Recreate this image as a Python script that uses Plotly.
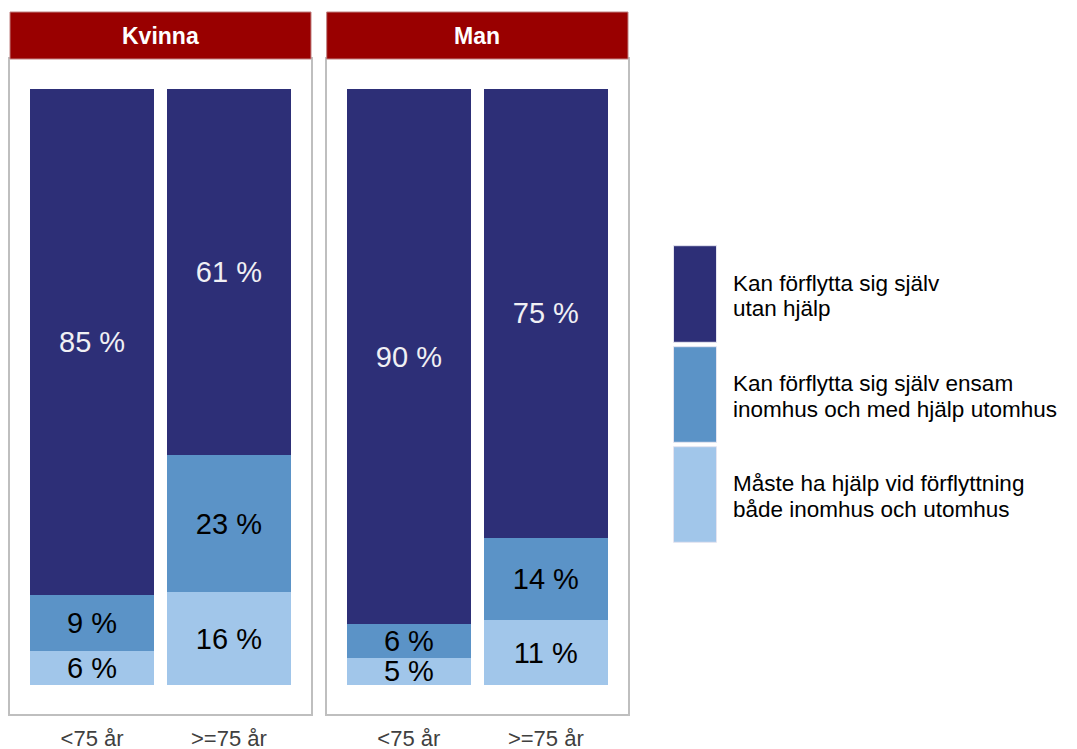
import plotly.graph_objects as go

W, H = 1077, 749
OFF = 8  # page body margin

panels = ["Kvinna", "Man"]
age_groups = ["<75 år", ">=75 år"]
series_lines = [
    ["Kan förflytta sig själv", "utan hjälp"],
    ["Kan förflytta sig själv ensam", "inomhus och med hjälp utomhus"],
    ["Måste ha hjälp vid förflyttning", "både inomhus och utomhus"],
]
colors = ["#2d2f77", "#5b93c7", "#a1c6ea"]
text_colors = ["#f0f0f4", "#000000", "#000000"]

# values (share of group, %)
kvinna_utan = [85.0, 61.4]
kvinna_ensam = [9.4, 23.1]
kvinna_maste = [5.6, 15.5]
man_utan = [89.8, 75.3]
man_ensam = [5.7, 13.9]
man_maste = [4.5, 10.8]

# printed labels
kvinna_utan_lbl = ["85 %", "61 %"]
kvinna_ensam_lbl = ["9 %", "23 %"]
kvinna_maste_lbl = ["6 %", "16 %"]
man_utan_lbl = ["90 %", "75 %"]
man_ensam_lbl = ["6 %", "14 %"]
man_maste_lbl = ["5 %", "11 %"]

data = {
    "Kvinna": [(kvinna_utan, kvinna_utan_lbl), (kvinna_ensam, kvinna_ensam_lbl), (kvinna_maste, kvinna_maste_lbl)],
    "Man": [(man_utan, man_utan_lbl), (man_ensam, man_ensam_lbl), (man_maste, man_maste_lbl)],
}

fig = go.Figure()
font_family = "Liberation Sans, Arial, sans-serif"

for pi, panel in enumerate(panels):
    xa = "x" if pi == 0 else "x2"
    ya = "y" if pi == 0 else "y2"
    for si in [2, 1, 0]:
        vals, lbls = data[panel][si]
        fig.add_trace(go.Bar(
            x=age_groups, y=vals, text=lbls,
            name=" ".join(series_lines[si]),
            marker=dict(color=colors[si], line=dict(width=0)),
            textposition="inside", insidetextanchor="middle",
            textfont=dict(size=29, color=text_colors[si], family=font_family),
            xaxis=xa, yaxis=ya, showlegend=False,
            hoverinfo="skip",
        ))

def px_x(p):
    return (p - OFF) / W

def px_y(p):
    return 1 - (p - OFF) / H

panel_px = [(10, 311), (326.7, 628)]
ydom = [px_y(714.3), px_y(59)]

axis_common = dict(showline=True, mirror=True, linecolor="#bfbfbf", linewidth=2,
                   showgrid=False, zeroline=False)

layout = dict(
    width=W, height=H,
    margin=dict(l=0, r=0, t=0, b=0, autoexpand=False),
    paper_bgcolor="white", plot_bgcolor="white",
    barmode="stack", bargap=0.095,
    showlegend=False,
    uniformtext=dict(minsize=29, mode="show"),
    font=dict(family=font_family),
)
for pi in range(2):
    sx = "" if pi == 0 else "2"
    layout["xaxis" + sx] = dict(
        domain=[px_x(panel_px[pi][0]), px_x(panel_px[pi][1])],
        range=[-0.6, 1.6], anchor="y" + sx, type="category",
        tickfont=dict(size=22, color="#404040", family=font_family),
        ticks="", ticklabelstandoff=3, **axis_common)
    layout["yaxis" + sx] = dict(
        domain=ydom, range=[-4.97, 105.09], anchor="x" + sx,
        showticklabels=False, ticks="", **axis_common)
fig.update_layout(**layout)

shapes = []
annotations = []
for pi, panel in enumerate(panels):
    x0, x1 = panel_px[pi]
    shapes.append(dict(type="rect", xref="paper", yref="paper",
                       x0=px_x(x0), x1=px_x(x1), y0=px_y(59), y1=px_y(12),
                       fillcolor="#990000", line=dict(color="#c08080", width=1)))
    annotations.append(dict(text="<b>" + panel + "</b>", xref="paper", yref="paper",
                            x=px_x((x0 + x1) / 2), y=px_y(36), xanchor="center", yanchor="middle",
                            showarrow=False, font=dict(size=23, color="white", family=font_family)))

legend_boxes = [(245.7, 342.3), (346.7, 442.3), (446.7, 542.3)]
for si, (t, b) in enumerate(legend_boxes):
    shapes.append(dict(type="rect", xref="paper", yref="paper",
                       x0=px_x(673.5), x1=px_x(716.5), y0=px_y(b), y1=px_y(t),
                       fillcolor=colors[si], line=dict(color="#e4e4f0", width=1)))
    c = (t + b) / 2 + 2
    for li, line in enumerate(series_lines[si]):
        annotations.append(dict(text=line, xref="paper", yref="paper",
                                x=px_x(731), y=px_y(c + (li - 0.5) * 25.7),
                                xanchor="left", yanchor="middle",
                                align="left", showarrow=False,
                                font=dict(size=22.5, color="#000000", family=font_family)))

fig.update_layout(shapes=shapes, annotations=annotations)
fig.write_html("out.html")
